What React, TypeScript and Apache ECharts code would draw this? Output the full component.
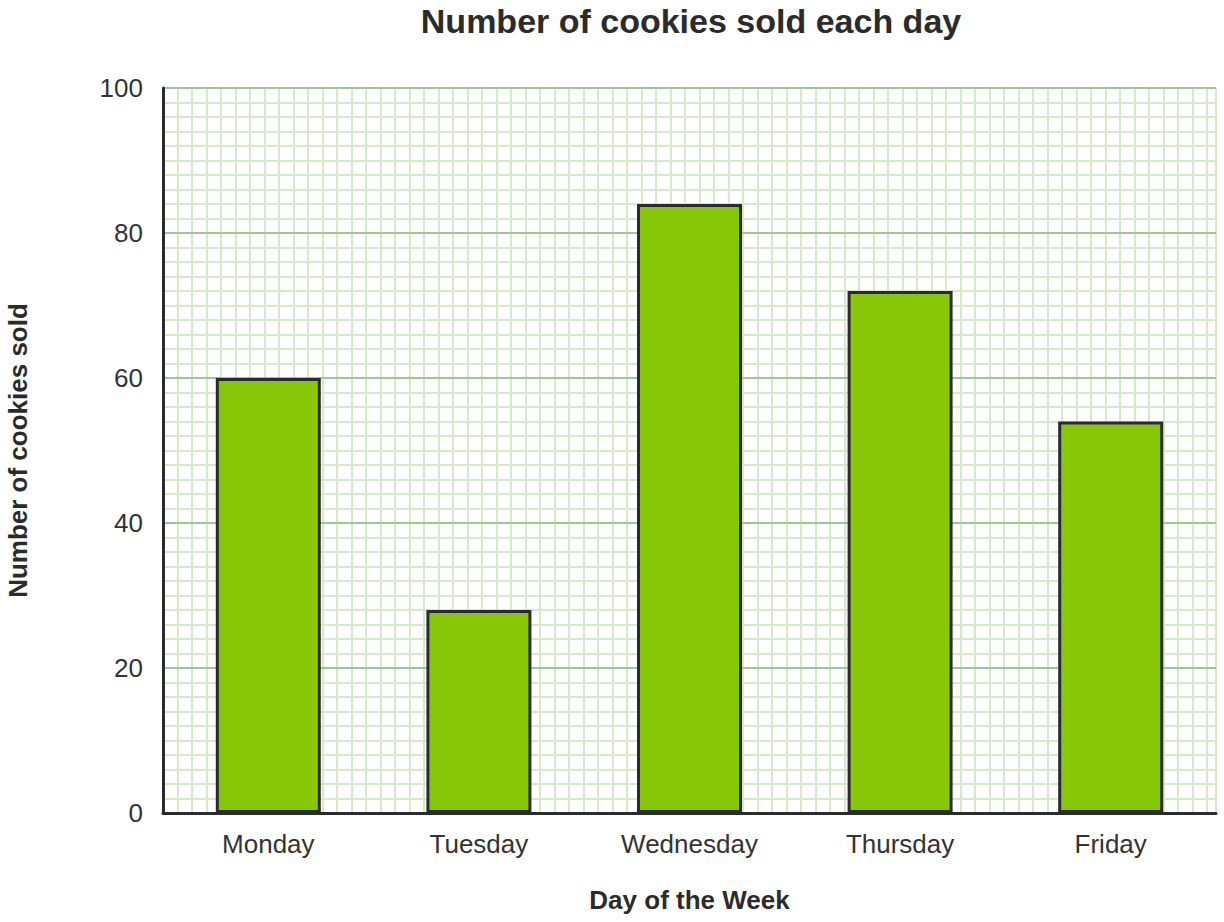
import React, { useEffect, useRef } from "react";
import * as echarts from "echarts";

const days = ["Monday", "Tuesday", "Wednesday", "Thursday", "Friday"];
const cookies = [60, 28, 84, 72, 54];
const yTicks = [0, 20, 40, 60, 80, 100];

const FONT = "'Liberation Sans', Arial, sans-serif";

export default function App() {
  const ref = useRef<HTMLDivElement>(null);
  useEffect(() => {
    if (!ref.current) return;
    const chart = echarts.init(ref.current, undefined, { renderer: "svg" });
    const plotW = 1224 - 163 - 8;
    const cell = 14.5;
    chart.setOption({
      animation: false,
      backgroundColor: "#ffffff",
      textStyle: { fontFamily: FONT },
      title: {
        text: "Number of cookies sold each day",
        left: 686,
        top: -1,
        textAlign: "center",
        textStyle: { fontFamily: FONT, fontSize: 34, fontWeight: "bold", color: "#2b2b2b" },
      },
      grid: {
        left: 163,
        right: 8,
        top: 88,
        bottom: 109,
        containLabel: false,
        outerBoundsMode: "none",
      },
      xAxis: [
        {
          type: "category",
          data: days,
          name: "Day of the Week",
          nameLocation: "middle",
          nameGap: 74,
          nameTextStyle: { fontFamily: FONT, fontSize: 26, fontWeight: "bold", color: "#2b2b2b" },
          axisLine: { show: true, lineStyle: { color: "#2b2b2b", width: 3 } },
          axisTick: { show: false },
          axisLabel: { fontFamily: FONT, fontSize: 26, color: "#333333", margin: 18 },
          splitLine: { show: false },
          z: 5,
        },
        {
          type: "value",
          position: "top",
          min: 0,
          max: plotW / cell,
          interval: 1,
          show: true,
          axisLine: { show: false },
          axisTick: { show: false },
          axisLabel: { show: false },
          splitLine: { show: true, lineStyle: { color: "#d6eac9", width: 2 } },
          z: 0,
        },
      ],
      yAxis: {
        type: "value",
        min: 0,
        max: 100,
        interval: 20,
        name: "Number of cookies sold",
        nameLocation: "middle",
        nameGap: 132,
        nameRotate: 90,
        nameTextStyle: { fontFamily: FONT, fontSize: 26, fontWeight: "bold", color: "#2b2b2b" },
        axisLine: { show: true, lineStyle: { color: "#2b2b2b", width: 3 } },
        axisTick: { show: false },
        axisLabel: {
          fontFamily: FONT,
          fontSize: 26,
          color: "#333333",
          margin: 20,
          formatter: (v: number) => (yTicks.includes(v) ? String(v) : ""),
        },
        splitLine: { show: true, lineStyle: { color: "#9dc79b", width: 2 } },
        minorTick: { show: false, splitNumber: 10 },
        minorSplitLine: { show: true, lineStyle: { color: "#d6eac9", width: 2 } },
        z: 2,
      },
      series: [
        {
          type: "bar",
          data: cookies,
          xAxisIndex: 0,
          barWidth: 105,
          itemStyle: { color: "#88c708", borderColor: "#2b2b2b", borderWidth: 3 },
          z: 3,
        },
      ],
    });
    return () => chart.dispose();
  }, []);
  return (
    <div
      ref={ref}
      style={{ position: "fixed", left: 0, top: 0, width: 1224, height: 922 }}
    />
  );
}
